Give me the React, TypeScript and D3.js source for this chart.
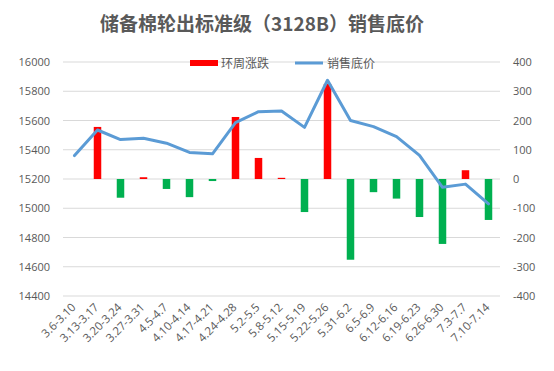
import React, { useRef, useEffect } from 'react'
import { select, scaleBand, scaleLinear, line } from 'd3'

// week labels, weekly change (bars, right axis), floor price (line, left axis)
const weeks = [
    '3.6-3.10', '3.13-3.17', '3.20-3.24', '3.27-3.31', '4.5-4.7', '4.10-4.14', '4.17-4.21',
    '4.24-4.28', '5.2-5.5', '5.8-5.12', '5.15-5.19', '5.22-5.26', '5.31-6.2', '6.5-6.9',
    '6.12-6.16', '6.19-6.23', '6.26-6.30', '7.3-7.7', '7.10-7.14',
]
const weeklyChange = [0, 178, -64, 6, -34, -62, -7, 212, 72, 4, -113, 325, -276, -45, -67, -130, -222, 30, -140]
const floorPrice = [
    15360, 15535, 15470, 15478, 15445, 15382, 15372, 15585, 15660, 15665,
    15553, 15875, 15600, 15558, 15490, 15362, 15143, 15165, 15030,
]
const leftTicks = [14400, 14600, 14800, 15000, 15200, 15400, 15600, 15800, 16000]
const rightTicks = [-400, -300, -200, -100, 0, 100, 200, 300, 400]

const W = 554
const H = 371
const left = 63, right = 500, top = 62, bottom = 296
const txt = '#595959'
const font = '"Noto Sans CJK SC", "Noto Sans", sans-serif'
const latin = '"Open Sans", "Noto Sans", sans-serif'

const App = () => {
    const svgRef = useRef(null)

    useEffect(() => {
        const svg = select(svgRef.current)
        svg.selectAll('*').remove()

        const x = scaleBand().domain(weeks).range([left, right])
        const yL = scaleLinear().domain([14400, 16000]).range([bottom, top])
        const yR = scaleLinear().domain([-400, 400]).range([bottom, top])

        // gridlines
        svg.append('g')
            .selectAll('line')
            .data(leftTicks)
            .join('line')
            .attr('x1', left).attr('x2', right)
            .attr('y1', d => yL(d)).attr('y2', d => yL(d))
            .attr('stroke', '#d9d9d9').attr('stroke-width', 1)

        // title
        svg.append('text')
            .attr('x', 262).attr('y', 31)
            .attr('text-anchor', 'middle')
            .attr('font-family', font).attr('font-weight', 'bold')
            .attr('font-size', 19).attr('fill', txt)
            .text('储备棉轮出标准级（3128B）销售底价')

        // left axis labels
        svg.append('g')
            .selectAll('text')
            .data(leftTicks)
            .join('text')
            .attr('x', 50).attr('y', d => yL(d) + 4)
            .attr('text-anchor', 'end')
            .attr('font-family', latin).attr('font-size', 11).attr('fill', txt)
            .text(d => d)

        // right axis labels
        svg.append('g')
            .selectAll('text')
            .data(rightTicks)
            .join('text')
            .attr('x', 513).attr('y', d => yR(d) + 4)
            .attr('font-family', latin).attr('font-size', 11).attr('fill', txt)
            .text(d => d)

        // x labels rotated
        svg.append('g')
            .selectAll('text')
            .data(weeks)
            .join('text')
            .attr('transform', d => `translate(${x(d) + x.bandwidth() / 2 + 2},${bottom + 12}) rotate(-45)`)
            .attr('text-anchor', 'end')
            .attr('font-family', latin).attr('font-size', 11.5).attr('fill', txt)
            .text(d => d)

        // bars
        const bw = 7.5
        svg.append('g')
            .selectAll('rect')
            .data(weeklyChange)
            .join('rect')
            .attr('x', (d, i) => x(weeks[i]) + x.bandwidth() / 2 - bw / 2)
            .attr('width', bw)
            .attr('y', d => Math.min(yR(d), yR(0)))
            .attr('height', d => Math.abs(yR(d) - yR(0)))
            .attr('fill', d => d >= 0 ? '#ff0000' : '#00b050')

        // line
        const path = line()
            .x((d, i) => x(weeks[i]) + x.bandwidth() / 2)
            .y(d => yL(d))
        svg.append('path')
            .datum(floorPrice)
            .attr('d', path)
            .attr('fill', 'none')
            .attr('stroke', '#5b9bd5')
            .attr('stroke-width', 3)
            .attr('stroke-linejoin', 'round')
            .attr('stroke-linecap', 'round')

        // legend
        const lg = svg.append('g').attr('font-family', font).attr('font-size', 12).attr('fill', txt)
        lg.append('rect').attr('x', 190).attr('y', 60).attr('width', 28).attr('height', 6).attr('fill', '#ff0000')
        lg.append('text').attr('x', 221).attr('y', 68).text('环周涨跌')
        lg.append('line').attr('x1', 295).attr('x2', 323).attr('y1', 63).attr('y2', 63)
            .attr('stroke', '#5b9bd5').attr('stroke-width', 3)
        lg.append('text').attr('x', 327).attr('y', 68).text('销售底价')
    }, [])

    return (
        <div style={{ width: W, height: H, margin: -8, overflow: 'hidden' }}>
            <svg ref={svgRef} width={W} height={H} style={{ backgroundColor: 'white', display: 'block' }} />
        </div>
    )
}

export default App
